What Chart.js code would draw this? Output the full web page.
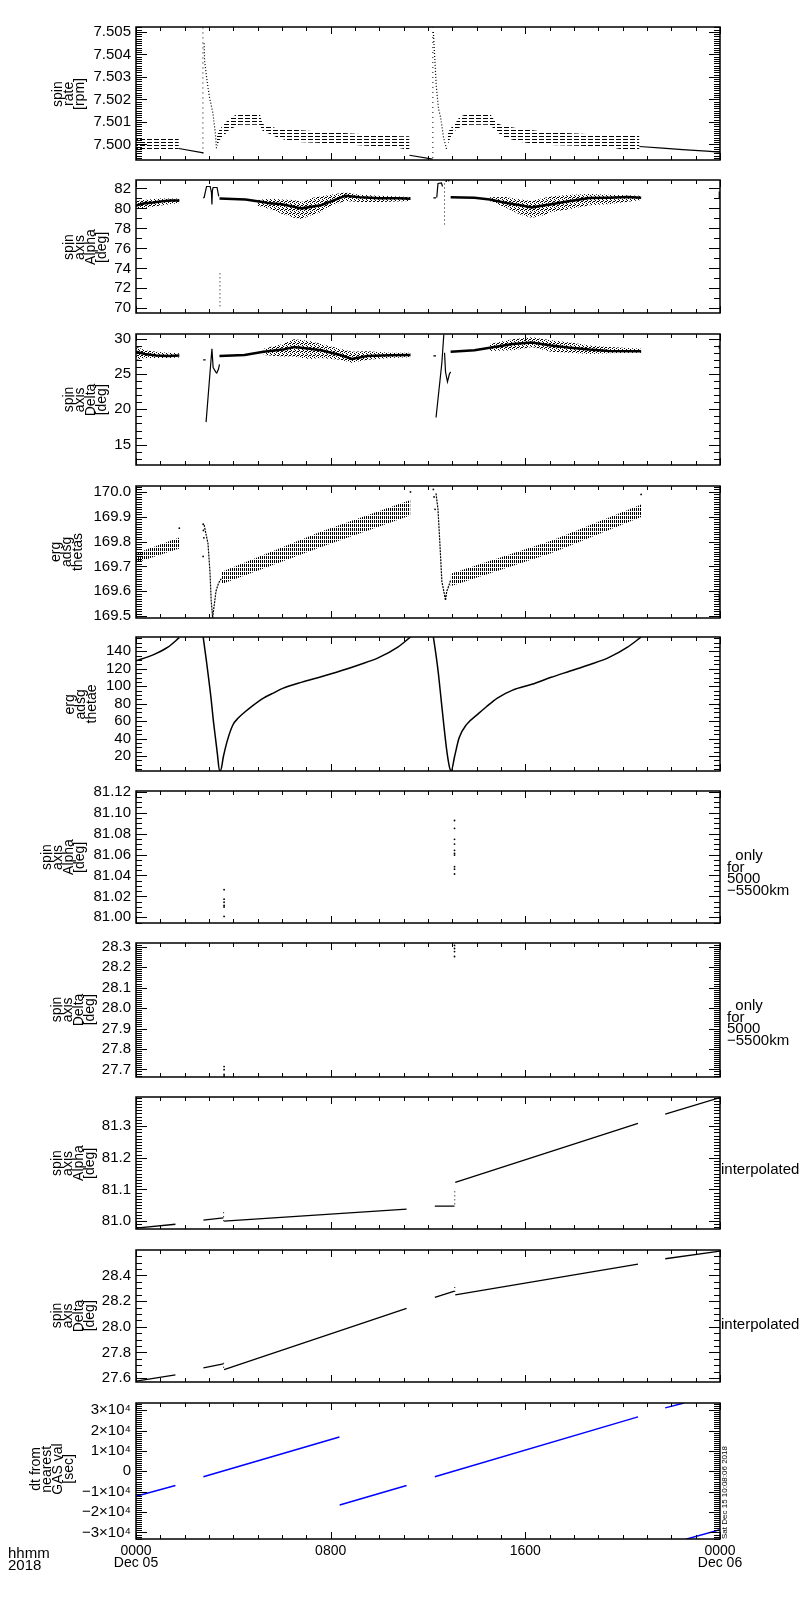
<!DOCTYPE html>
<html>
<head>
<meta charset="utf-8">
<script src="https://cdn.jsdelivr.net/npm/chart.js@4.4.1/dist/chart.umd.min.js"></script>
<style>
  body { margin: 0; background: #fff; }
  #page { position: relative; width: 800px; height: 1600px; background: #fff; color: #000;
          font-family: "Liberation Sans", Arial, sans-serif; }
  canvas { position: absolute; left: 0; }
  .ytitle { position: absolute; transform: translateY(-50%); }
  .ytitle span, .stamp span { display: block; writing-mode: vertical-rl; transform: rotate(180deg);
          text-align: center; white-space: pre; }
  .ytitle span { font-size: 14px; line-height: 11px; }
  .note { position: absolute; font-size: 15px; line-height: 11.5px; white-space: pre; }
  .stamp { position: absolute; transform: translateY(-100%); }
  .stamp span { font-size: 8px; line-height: 8px; }
</style>
</head>
<body>
<div id="page"></div>
<script>
// x = hours since 0000 UT, Dec 05 2018
const xTicks = [0, 8, 16, 24];
const xTickLabels = [["0000", "Dec 05"], "0800", "1600", ["0000", "Dec 06"]];

// spin rate [rpm]
const rateTicks = [7.500, 7.501, 7.502, 7.503, 7.504, 7.505];
const rateLineT = [1.76, 2.77, null, 11.24, 12.19, null, 20.69, 21.64, 22.46, 23.45, 24.0];
const rateLineV = [7.49982, 7.49963, null, 7.49952, 7.49935, null, 7.49991, 7.49984, 7.49977, 7.49970, 7.49966];
const rateDecayT = [2.80, 2.82, 2.91, 3.02, 3.16, 3.26, 3.31, null, 12.22, 12.27, 12.34, 12.43, 12.52, 12.64, 12.76];
const rateDecayV = [7.5045, 7.5037, 7.5029, 7.5021, 7.5014, 7.5005, 7.4998, null, 7.5050, 7.5040, 7.5026, 7.5016, 7.5012, 7.5003, 7.4998];
const rateSpikeT = [2.75, 2.75, null, 12.20, 12.20];
const rateSpikeV = [7.4996, 7.5052, null, 7.4994, 7.5052];
const rateBandT = [0, 1.76, null, 3.31, 3.43, 3.84, 4.25, 5.08, 5.20, 5.77, 6.35, 7.95, 10.83, 11.24, null,
  12.76, 12.96, 13.16, 13.30, 13.71, 14.53, 14.80, 15.08, 15.76, 16.04, 16.99, 18.50, 19.05, 19.60, 20.15, 20.69];
const rateBandHi = [7.50033, 7.50033, null, 7.50033, 7.50067, 7.50116, 7.50140, 7.50140, 7.50091, 7.50072, 7.50067, 7.50054, 7.50036, 7.50036, null,
  7.50047, 7.50075, 7.50100, 7.50123, 7.50140, 7.50140, 7.50095, 7.50084, 7.50070, 7.50067, 7.50054, 7.50047, 7.50045, 7.50043, 7.50041, 7.50040];
const rateBandLo = [7.49974, 7.49974, null, 7.49984, 7.50019, 7.50067, 7.50088, 7.50088, 7.50061, 7.50033, 7.50012, 7.50005, 7.49984, 7.49974, null,
  7.49984, 7.50040, 7.50067, 7.50075, 7.50088, 7.50088, 7.50061, 7.50033, 7.50012, 7.50008, 7.49998, 7.49993, 7.49991, 7.49985, 7.49974, 7.49980];

// spin axis alpha [deg]
const alphaTicks = [70, 72, 74, 76, 78, 80, 82];
const alphaCoreT = [0, 0.3, 0.7, 1.0, 1.4, 1.78, null, 3.43, 4.5, 5.2, 5.5, 6.0, 6.8, 7.6, 8.2, 8.6, 9.2, 10.0, 10.8, 11.28, null,
  12.93, 13.91, 14.54, 15.17, 15.80, 16.27, 17.06, 17.84, 18.63, 19.42, 20.20, 20.76];
const alphaCoreV = [80.3, 80.5, 80.6, 80.7, 80.8, 80.8, null, 80.99, 80.89, 80.65, 80.51, 80.42, 80.01, 80.32, 80.89, 81.27, 81.12, 81.02, 81.02, 80.96, null,
  81.12, 81.08, 80.89, 80.58, 80.32, 80.11, 80.42, 80.74, 81.05, 81.08, 81.15, 81.08];
const alphaBandT = [0, 0.5, 1.0, 1.78, null, 5.0, 5.5, 6.0, 6.5, 6.8, 7.2, 7.6, 8.0, 8.6, 9.2, 10.0, 11.28, null,
  14.54, 15.17, 15.80, 16.27, 16.74, 17.06, 17.84, 18.63, 19.42, 20.76];
const alphaBandHi = [80.75, 80.9, 81.0, 81.0, null, 80.84, 80.96, 80.89, 80.84, 80.65, 81.05, 81.21, 81.37, 81.59, 81.37, 81.27, 81.15, null,
  81.12, 81.15, 80.89, 80.74, 81.05, 81.21, 81.37, 81.46, 81.37, 81.27];
const alphaBandLo = [79.95, 80.1, 80.3, 80.55, null, 80.27, 79.95, 79.47, 79.06, 78.94, 79.32, 79.63, 80.27, 80.74, 80.65, 80.65, 80.74, null,
  80.74, 80.11, 79.38, 79.06, 79.32, 79.63, 79.95, 80.32, 80.42, 80.84];
const alphaEdgeT = [2.76, 2.80, 2.90, 3.05, 3.10, 3.12, 3.14, 3.17, 3.33, 3.40, null, 12.22, 12.33, null, 12.36, 12.41, 12.55, 12.60, null, 23.97, 23.97];
const alphaEdgeV = [81.05, 81.1, 82.2, 82.2, 81.6, 80.4, 81.8, 82.1, 82.1, 81.2, null, 81.05, 81.05, null, 81.1, 82.5, 82.55, 82.2, null, 81.7, 81.05];
const alphaDotT = [3.45, 3.45, null, 12.68, 12.68];
const alphaDotV = [73.5, 70.0, null, 82.5, 78.4];
const alphaSpeckT = [12.75, 12.85];
const alphaSpeckV = [82.75, 82.8];

// spin axis delta [deg]
const deltaTicks = [15, 20, 25, 30];
const deltaCoreT = [0, 0.36, 0.83, 1.31, 1.78, null, 3.43, 4.46, 5.24, 6.03, 6.50, 7.13, 7.61, 8.39, 8.87, 9.50, 10.44, 11.28, null,
  12.93, 13.91, 14.85, 15.48, 16.27, 17.06, 17.84, 18.63, 19.42, 20.76];
const deltaCoreV = [28.14, 27.82, 27.61, 27.56, 27.61, null, 27.56, 27.69, 28.14, 28.45, 28.81, 28.58, 28.35, 27.69, 27.12, 27.56, 27.65, 27.69, null,
  28.14, 28.35, 28.88, 29.24, 29.47, 29.02, 28.71, 28.45, 28.27, 28.22];
const deltaBandT = [0, 0.36, 0.83, 1.31, 1.78, null, 5.24, 6.03, 6.50, 7.13, 7.61, 8.39, 8.87, 9.50, 10.44, 11.28, null,
  14.54, 15.48, 16.27, 17.06, 17.84, 18.63, 19.42, 20.76];
const deltaBandHi = [28.88, 28.35, 28.14, 28.01, 27.92, null, 28.58, 29.24, 29.91, 29.68, 29.24, 28.58, 28.14, 28.22, 28.01, 28.01, null,
  29.24, 29.91, 30.2, 29.77, 29.47, 29.02, 28.81, 28.58];
const deltaBandLo = [27.03, 27.25, 27.25, 27.25, 27.35, null, 27.69, 27.48, 27.48, 27.12, 27.25, 27.03, 26.59, 27.03, 27.25, 27.38, null,
  28.27, 28.35, 28.81, 28.14, 28.01, 27.82, 27.92, 28.01];
const deltaEdgeT = [2.76, 2.86, null, 2.88, 3.12, 3.17, 3.28, 3.32, 3.39, 3.43, null, 12.22, 12.33, null, 12.33, 12.57, 12.65, null,
  12.68, 12.72, 12.80, 12.88, 12.93, null, 23.97, 23.97];
const deltaEdgeV = [27.0, 27.0, null, 18.19, 28.58, 25.92, 25.26, 25.13, 25.7, 26.36, null, 27.56, 27.56, null, 18.85, 26.59, 30.6, null,
  28.0, 25.3, 23.9, 25.0, 25.3, null, 29.02, 28.58];

// erg adsg thetas
const thetasTicks = [169.5, 169.6, 169.7, 169.8, 169.9, 170.0];
const thetasBandT = [0, 1.78, null, 3.50, 7.61, 11.28, null, 12.93, 17.06, 20.76];
const thetasBandHi = [169.753, 169.816, null, 169.677, 169.841, 169.968, null, 169.670, 169.803, 169.949];
const thetasBandLo = [169.715, 169.772, null, 169.628, 169.778, 169.905, null, 169.620, 169.753, 169.899];
const thetasLineT = [2.80, 2.96, 3.04, 3.09, 3.15, 3.23, 3.29, 3.39, 3.50, null, 12.33, 12.41, 12.49, 12.57, 12.65, 12.72, 12.77, 12.85, 12.93, null, 23.97, 23.97];
const thetasLineV = [169.867, 169.791, 169.677, 169.563, 169.493, 169.556, 169.601, 169.632, 169.65, null,
  169.994, 169.93, 169.79, 169.639, 169.60, 169.563, 169.60, 169.62, 169.645, null, 169.60, 169.545];
const thetasDotT = [1.78, 2.76, 2.77, 2.79, 2.76, 11.28, 12.22, 12.25, 12.29, 20.76];
const thetasDotV = [169.854, 169.87, 169.845, 169.815, 169.74, 170.0, 170.01, 169.98, 169.93, 169.99];

// erg adsg thetae
const thetaeTicks = [20, 40, 60, 80, 100, 120, 140];
const thetaeT = [0, 0.68, 1.31, 1.78, null,
  2.76, 2.88, 2.98, 3.09, 3.17, 3.28, 3.35, 3.43, 3.48, 3.59, 3.75, 3.98, 4.2, 4.46, 4.8, 5.24, 5.7, 6.03, 6.82, 7.61, 8.39, 9.18, 9.97, 10.76, 11.28, null,
  12.22, 12.33, 12.43, 12.54, 12.65, 12.77, 12.85, 12.93, 12.96, 13.09, 13.28, 13.59, 14.06, 14.4, 14.85, 15.48, 16.27, 17.06, 17.84, 18.63, 19.42, 20.20, 20.76, null,
  23.95, 23.99];
const thetaeV = [129.1, 135.6, 144.7, 155.6, null,
  156.4, 131.9, 110.1, 84.7, 62.9, 37.5, 21.1, 3.6, 3.6, 19.2, 37.4, 55.6, 63.5, 70.2, 77.9, 86.5, 93.0, 97.5, 104.7, 110.9, 117.4, 124.7, 132.7, 144.7, 156.4, null,
  156.4, 135.6, 113.8, 84.7, 55.6, 26.5, 12.0, 3.6, 3.6, 19.2, 41.0, 56.3, 68.3, 76.5, 86.5, 95.6, 102.2, 110.2, 117.4, 124.7, 132.7, 144.7, 156.4, null,
  78, 80];

// spin axis alpha / delta, only for 5000-5500 km
const gasAlphaTicks = [81.00, 81.02, 81.04, 81.06, 81.08, 81.10, 81.12];
const gasAlphaT = [3.62, 3.62, 3.62, 3.62, 3.62, 3.62, 13.09, 13.09, 13.09, 13.09, 13.09, 13.09, 13.09, 13.09, 13.09, 13.09];
const gasAlphaV = [81.0264, 81.0174, 81.0144, 81.0114, 81.0099, 81.0009, 81.0925, 81.085, 81.0745, 81.070, 81.064, 81.061, 81.0595, 81.0484, 81.046, 81.0414];
const gasDeltaTicks = [27.7, 27.8, 27.9, 28.0, 28.1, 28.2, 28.3];
const gasDeltaT = [3.62, 3.62, 3.62, 3.62, 13.09, 13.09, 13.09, 13.09];
const gasDeltaV = [27.714, 27.699, 27.676, 27.668, 28.306, 28.291, 28.276, 28.252];

// spin axis alpha / delta, interpolated
const intAlphaTicks = [81.0, 81.1, 81.2, 81.3];
const intAlphaT = [0, 1.62, null, 2.77, 3.59, null, 3.62, 11.12, null, 12.28, 13.09, null, 13.12, 20.63, null, 21.75, 24];
const intAlphaV = [80.978, 80.99, null, 81.003, 81.01, null, 81.0, 81.038, null, 81.047, 81.047, null, 81.122, 81.309, null, 81.338, 81.39];
const intAlphaJumpT = [3.60, 3.60, null, 13.10, 13.10];
const intAlphaJumpV = [81.028, 80.993, null, 81.094, 81.045];
const intDeltaTicks = [27.6, 27.8, 28.0, 28.2, 28.4];
const intDeltaT = [0, 1.62, null, 2.77, 3.59, null, 3.62, 11.12, null, 12.28, 13.09, null, 13.12, 20.63, null, 21.75, 24];
const intDeltaV = [27.577, 27.626, null, 27.68, 27.711, null, 27.667, 28.144, null, 28.229, 28.278, null, 28.249, 28.488, null, 28.53, 28.59];
const intDeltaJumpT = [3.60, 3.60, null, 13.10, 13.10];
const intDeltaJumpV = [27.72, 27.66, null, 28.31, 28.25];

// dt from nearest GAS val [sec]
const dtTicks = [-30000, -20000, -10000, 0, 10000, 20000, 30000];
const dtT = [0, 1.62, null, 2.77, 8.36, null, 8.37, 11.12, null, 12.28, 20.63, null, 21.75, 22.52, null, 22.6, 24];
const dtV = [-12200, -7000, null, -2700, 16800, null, -16500, -7000, null, -2700, 26700, null, 31100, 33500, null, -33300, -28600];

Chart.defaults.font.family = '"Liberation Sans", Arial, sans-serif';
Chart.defaults.color = "#000";
Chart.defaults.elements.point.radius = 0;
Chart.defaults.elements.line.tension = 0;

const page = document.getElementById("page");

function pts(t, v) {
  return t.map((x, i) => ({ x: x === null ? t[i - 1] : x, y: v[i] }));
}

function segs(t, hi, lo) {
  const out = [];
  let cur = null;
  t.forEach((x, i) => {
    if (x === null) { cur = null; return; }
    if (!cur) { cur = { t: [], hi: [], lo: [] }; out.push(cur); }
    cur.t.push(x); cur.hi.push(hi[i]); cur.lo.push(lo[i]);
  });
  return out;
}

function hatch(kind) {
  const c = document.createElement("canvas");
  const g = c.getContext("2d");
  if (kind === "rows") {
    c.width = 7; c.height = 3; g.fillStyle = "#000"; g.fillRect(0, 0, 5, 1);
  } else if (kind === "dots") {
    c.width = 4; c.height = 4; g.fillStyle = "#000";
    [[0, 0], [2, 1], [1, 3], [3, 2], [2, 3]].forEach(p => g.fillRect(p[0], p[1], 1, 1));
  } else {
    c.width = 2; c.height = 4; g.fillStyle = "#000"; g.fillRect(0, 0, 1, 3);
  }
  return g.createPattern(c, "repeat");
}

function line(t, v, w, extra) {
  return Object.assign({ data: pts(t, v), borderColor: "#000", borderWidth: w, fill: false, spanGaps: false }, extra || {});
}
function dots(t, v) {
  return { data: pts(t, v), showLine: false, pointRadius: 0.9, pointBorderWidth: 0, pointBackgroundColor: "#000" };
}
function bands(t, hi, lo, pattern) {
  const out = [];
  segs(t, hi, lo).forEach(s => {
    out.push({ data: pts(s.t, s.hi), borderWidth: 0, fill: "+1", backgroundColor: pattern });
    out.push({ data: pts(s.t, s.lo), borderWidth: 0, fill: false });
  });
  return out;
}

// frame plus inward major/minor ticks on all four sides
const frameTicks = {
  id: "frameTicks",
  afterDatasetsDraw(chart, args, o) {
    const { ctx, chartArea: a } = chart;
    const y = chart.scales.y, x = chart.scales.x;
    ctx.save();
    ctx.strokeStyle = "#000";
    ctx.lineWidth = 1;
    ctx.beginPath();
    const n = Math.round(o.major / o.minor);
    for (let k = Math.ceil(y.min / o.minor - 1e-6); k * o.minor <= y.max + 1e-9; k++) {
      const py = Math.round(y.getPixelForValue(k * o.minor)) + 0.5;
      const len = k % n === 0 ? 11 : 6;
      ctx.moveTo(a.left, py); ctx.lineTo(a.left + len, py);
      ctx.moveTo(a.right, py); ctx.lineTo(a.right - len, py);
    }
    for (let hr = 0; hr <= 24; hr++) {
      const px = Math.round(x.getPixelForValue(hr)) + 0.5;
      const len = hr % 8 === 0 ? 7 : 4;
      ctx.moveTo(px, a.top); ctx.lineTo(px, a.top + len);
      ctx.moveTo(px, a.bottom); ctx.lineTo(px, a.bottom - len);
    }
    ctx.stroke();
    ctx.lineWidth = 1.5;
    ctx.strokeRect(a.left, a.top, a.right - a.left, a.bottom - a.top);
    ctx.restore();
  }
};
Chart.register(frameTicks);

function panel(p, datasets, isLast) {
  const padT = 10, padB = isLast ? 0 : 10, xH = isLast ? 45 : 0;
  const cv = document.createElement("canvas");
  cv.width = 800;
  cv.height = padT + (p.bottom - p.top) + padB + xH;
  cv.style.top = (p.top - padT) + "px";
  page.appendChild(cv);

  new Chart(cv, {
    type: "line",
    data: { datasets: datasets },
    options: {
      responsive: false,
      animation: false,
      devicePixelRatio: 1,
      layout: { padding: { top: padT, bottom: padB, left: 0, right: 80 } },
      plugins: {
        legend: { display: false },
        tooltip: { enabled: false },
        frameTicks: { major: p.major, minor: p.minor }
      },
      scales: {
        x: {
          type: "linear", min: 0, max: 24, bounds: "data", display: isLast,
          grid: { display: false, drawTicks: false }, border: { display: false },
          ticks: { autoSkip: false, maxRotation: 0, padding: 6,
                   font: { size: 14, lineHeight: 0.86 },
                   callback: v => xTickLabels[xTicks.indexOf(v)] },
          afterBuildTicks: s => { s.ticks = xTicks.map(v => ({ value: v })); },
          afterFit: s => { s.height = xH; }
        },
        y: {
          min: p.min, max: p.max, bounds: "data",
          grid: { display: false, drawTicks: false }, border: { display: false },
          ticks: { autoSkip: false, padding: 5, font: { size: 15 }, callback: p.fmt },
          afterBuildTicks: s => { s.ticks = p.ticks.map(v => ({ value: v })); },
          afterFit: s => { s.width = 136; }
        }
      }
    }
  });

  const w = document.createElement("div");
  w.className = "ytitle";
  w.style.right = (800 - p.titleRight) + "px";
  w.style.top = ((p.top + p.bottom) / 2) + "px";
  const s = document.createElement("span");
  s.textContent = p.title.join("\n");
  w.appendChild(s);
  page.appendChild(w);
}

function note(text, left, top) {
  const d = document.createElement("div");
  d.className = "note";
  d.style.left = left + "px";
  d.style.top = top + "px";
  d.textContent = text;
  page.appendChild(d);
}

const rows = hatch("rows"), speck = hatch("dots"), stripes = hatch("stripes");
const sci = v => v === 0 ? "0" : (v < 0 ? "\u2212" : "") + Math.abs(Math.round(v / 1e4)) + "\u00d710\u2074";

panel({ top: 23, bottom: 164, min: 7.49931, max: 7.50522, major: 0.001, minor: 0.0001, ticks: rateTicks,
        fmt: v => v.toFixed(3), title: ["spin", "rate", "[rpm]"], titleRight: 85 },
  [line(rateLineT, rateLineV, 1.2),
   line(rateDecayT, rateDecayV, 1.2, { borderDash: [1, 2] }),
   line(rateSpikeT, rateSpikeV, 1, { borderDash: [1, 4] })]
  .concat(bands(rateBandT, rateBandHi, rateBandLo, rows)));

panel({ top: 176, bottom: 317, min: 69.53, max: 82.85, major: 2, minor: 1, ticks: alphaTicks,
        fmt: v => String(Math.round(v)), title: ["spin", "axis", "Alpha", "[deg]"], titleRight: 107 },
  [line(alphaCoreT, alphaCoreV, 2.5),
   line(alphaEdgeT, alphaEdgeV, 1.2),
   line(alphaDotT, alphaDotV, 1, { borderDash: [1, 3] }),
   dots(alphaSpeckT, alphaSpeckV)]
  .concat(bands(alphaBandT, alphaBandHi, alphaBandLo, speck)));

panel({ top: 330, bottom: 469, min: 12.12, max: 30.66, major: 5, minor: 1, ticks: deltaTicks,
        fmt: v => String(Math.round(v)), title: ["spin", "axis", "Delta", "[deg]"], titleRight: 107 },
  [line(deltaCoreT, deltaCoreV, 2.5),
   line(deltaEdgeT, deltaEdgeV, 1.2)]
  .concat(bands(deltaBandT, deltaBandHi, deltaBandLo, speck)));

panel({ top: 482, bottom: 622, min: 169.492, max: 170.024, major: 0.1, minor: 0.01, ticks: thetasTicks,
        fmt: v => v.toFixed(1), title: ["erg", "adsg", "thetas"], titleRight: 83 },
  [line(thetasLineT, thetasLineV, 1.2, { borderDash: [2, 1] }),
   dots(thetasDotT, thetasDotV)]
  .concat(bands(thetasBandT, thetasBandHi, thetasBandLo, stripes)));

panel({ top: 633, bottom: 775, min: 2.9, max: 156.4, major: 20, minor: 5, ticks: thetaeTicks,
        fmt: v => String(Math.round(v)), title: ["erg", "adsg", "thetae"], titleRight: 97 },
  [line(thetaeT, thetaeV, 1.5, { cubicInterpolationMode: "monotone" })]);

panel({ top: 787, bottom: 927, min: 80.9946, max: 81.1207, major: 0.02, minor: 0.005, ticks: gasAlphaTicks,
        fmt: v => v.toFixed(2), title: ["spin", "axis", "Alpha", "[deg]"], titleRight: 85 },
  [dots(gasAlphaT, gasAlphaV)]);

panel({ top: 939, bottom: 1081, min: 27.663, max: 28.318, major: 0.1, minor: 0.01, ticks: gasDeltaTicks,
        fmt: v => v.toFixed(1), title: ["spin", "axis", "Delta", "[deg]"], titleRight: 95 },
  [dots(gasDeltaT, gasDeltaV)]);

panel({ top: 1093, bottom: 1233, min: 80.975, max: 81.392, major: 0.1, minor: 0.01, ticks: intAlphaTicks,
        fmt: v => v.toFixed(1), title: ["spin", "axis", "Alpha", "[deg]"], titleRight: 95 },
  [line(intAlphaT, intAlphaV, 1.3),
   line(intAlphaJumpT, intAlphaJumpV, 1, { borderDash: [1, 3] })]);

panel({ top: 1246, bottom: 1386, min: 27.57, max: 28.598, major: 0.2, minor: 0.05, ticks: intDeltaTicks,
        fmt: v => v.toFixed(1), title: ["spin", "axis", "Delta", "[deg]"], titleRight: 95 },
  [line(intDeltaT, intDeltaV, 1.3),
   line(intDeltaJumpT, intDeltaJumpV, 1, { borderDash: [1, 3] })]);

panel({ top: 1399, bottom: 1539, min: -33200, max: 33500, major: 10000, minor: 1000, ticks: dtTicks,
        fmt: sci, title: ["dt from", "nearest", "GAS val", "[sec]"], titleRight: 74 },
  [line(dtT, dtV, 1.5, { borderColor: "#0000ff" })], true);

note("  only\nfor\n5000\n\u22125500km", 727, 849);
note("  only\nfor\n5000\n\u22125500km", 727, 999);
note("interpolated", 721, 1163);
note("interpolated", 721, 1318);
note("hhmm\n2018", 8, 1547);

const st = document.createElement("div");
st.className = "stamp";
st.style.left = "721px";
st.style.top = "1539px";
const sts = document.createElement("span");
sts.textContent = "Sat Dec 15 10:08:06 2018";
st.appendChild(sts);
page.appendChild(st);
</script>
</body>
</html>
